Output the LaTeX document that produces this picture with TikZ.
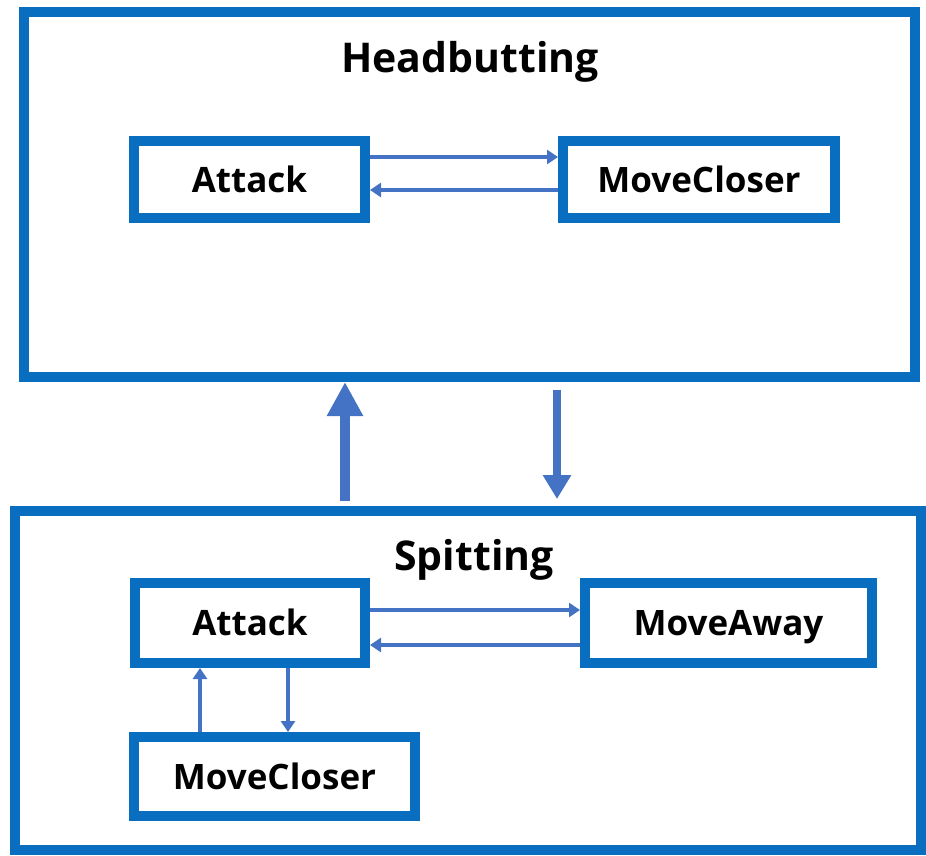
\documentclass[tikz,border=0pt]{standalone}
\usepackage{fontspec}
\setmainfont{Open Sans}
\usetikzlibrary{arrows.meta,calc}
\definecolor{boxblue}{HTML}{0A6EC0}
\definecolor{arrblue}{HTML}{4472C4}
\begin{document}
\begin{tikzpicture}[x=1pt,y=-1pt,
  outerbox/.style={draw=boxblue,line width=10pt,inner sep=0pt,fill=none},
  statebox/.style={draw=boxblue,line width=10pt,inner sep=0pt,text height=25pt,text depth=0pt,font=\fontsize{35}{40}\selectfont\bfseries},
  title/.style={font=\fontsize{41}{46}\selectfont\bfseries,inner sep=0pt,text height=29pt,text depth=0pt},
  small/.style={draw=arrblue,line width=4pt,-{Triangle[length=11pt,width=14pt]}},
  bigup/.style={draw=arrblue,line width=10pt,-{Triangle[length=34pt,width=34pt]}},
  bigdown/.style={draw=arrblue,line width=8pt,-{Triangle[length=24pt,width=27pt]}}]
\useasboundingbox (0,0) rectangle (926,855);
% outer boxes
\node[outerbox,minimum width=891pt,minimum height=365pt] (hb) at (469.5,194.5) {};
\node[outerbox,minimum width=906pt,minimum height=339pt] (sp) at (468,680.5) {};
\node[title] (hbt) at (470,58) {Headbutting};
\node[title] (spt) at (474,556) {Spitting};
% top states
\node[statebox,minimum width=231pt,minimum height=77pt] (a1) at (249.5,179.5) {Attack};
\node[statebox,minimum width=272pt,minimum height=77pt] (m1) at (699,179.5) {MoveCloser};
% bottom states
\node[statebox,minimum width=230pt,minimum height=80pt] (a2) at (250,623) {Attack};
\node[statebox,minimum width=287pt,minimum height=80pt] (ma) at (728.5,623) {MoveAway};
\node[statebox,minimum width=281pt,minimum height=79pt] (m2) at (274.5,776.5) {MoveCloser};
% connectors top
\draw[small] ([yshift=22.5pt]a1.east) -- ([yshift=22.5pt]m1.west);
\draw[small] ([yshift=-10.5pt]m1.west) -- ([yshift=-10.5pt]a1.east);
% connectors bottom
\draw[small] ([yshift=13pt]a2.east) -- ([yshift=13pt]ma.west);
\draw[small] ([yshift=-22pt]ma.west) -- ([yshift=-22pt]a2.east);
\draw[small] ([xshift=-50pt]a2.south |- m2.north) -- ([xshift=-50pt]a2.south);
\draw[small] ([xshift=38pt]a2.south) -- ([xshift=38pt]a2.south |- m2.north);
% big arrows
\draw[bigup] ([xshift=-124.5pt,yshift=5pt]sp.north -| hb.south) -- ([xshift=-124.5pt]hb.south);
\draw[bigdown] ([xshift=87.5pt,yshift=-8pt]hb.south) -- ([xshift=87.5pt,yshift=7pt]hb.south |- sp.north);
\end{tikzpicture}
\end{document}
